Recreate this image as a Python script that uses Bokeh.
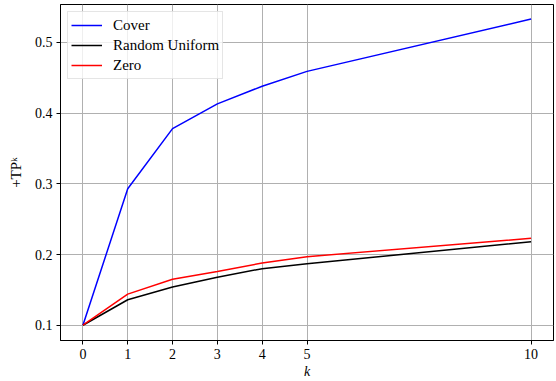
from bokeh.plotting import figure
from bokeh.models import Range1d, FixedTicker, Legend, LegendItem
from bokeh.embed import file_html
from bokeh.resources import INLINE

# Budget k and the +TP^k score for each initialisation strategy
k_values = [0, 1, 2, 3, 4, 5, 10]
cover = [0.100, 0.293, 0.378, 0.413, 0.438, 0.459, 0.533]
random_uniform = [0.100, 0.136, 0.154, 0.168, 0.180, 0.187, 0.218]
zero = [0.100, 0.144, 0.165, 0.176, 0.188, 0.197, 0.223]

x_ticks = [0, 1, 2, 3, 4, 5, 10]
y_ticks = [0.1, 0.2, 0.3, 0.4, 0.5]

FONT = "Liberation Serif"

p = figure(
    width=556, height=381,
    x_range=Range1d(-0.5, 10.5), y_range=Range1d(0.0784, 0.5536),
    output_backend="svg", toolbar_location=None,
    min_border_left=60, min_border_right=3, min_border_top=4, min_border_bottom=41,
)
p.background_fill_color = "white"
p.border_fill_color = "white"
p.outline_line_color = "black"
p.outline_line_width = 1
p.outline_line_alpha = 1

for g in (p.xgrid, p.ygrid):
    g.grid_line_color = "#b0b0b0"
    g.grid_line_width = 1

p.xaxis.ticker = FixedTicker(ticks=x_ticks)
p.yaxis.ticker = FixedTicker(ticks=y_ticks)
p.xgrid.ticker = FixedTicker(ticks=x_ticks)
p.ygrid.ticker = FixedTicker(ticks=y_ticks)

for ax in (p.xaxis[0], p.yaxis[0]):
    ax.major_tick_out = 4
    ax.major_tick_in = 0
    ax.minor_tick_out = 0
    ax.minor_tick_in = 0
    ax.axis_line_color = "black"
    ax.major_tick_line_color = "black"
    ax.major_label_text_font = FONT
    ax.major_label_text_font_size = "14px"
    ax.major_label_text_color = "black"
    ax.axis_label_text_font = FONT
    ax.axis_label_text_font_size = "14px"
    ax.axis_label_text_color = "black"
    ax.major_label_standoff = 4

p.xaxis.axis_label = "k"
p.xaxis.axis_label_text_font_style = "italic"
p.xaxis.axis_label_standoff = 2
p.yaxis.axis_label = "+TPᵏ"
p.yaxis.axis_label_text_font_size = "15px"
p.yaxis.axis_label_text_font_style = "normal"
p.yaxis.axis_label_standoff = 8

r_cover = p.line(k_values, cover, line_color="#0000ff", line_width=1.5)
r_rand = p.line(k_values, random_uniform, line_color="black", line_width=1.5)
r_zero = p.line(k_values, zero, line_color="#ff0000", line_width=1.5)

legend = Legend(
    items=[
        LegendItem(label="Cover", renderers=[r_cover]),
        LegendItem(label="Random Uniform", renderers=[r_rand]),
        LegendItem(label="Zero", renderers=[r_zero]),
    ],
    location="top_left",
    margin=7,
    padding=3,
    spacing=0,
    glyph_width=31,
    glyph_height=20,
    label_height=20,
    label_standoff=11,
    label_text_font=FONT,
    label_text_font_size="15px",
    label_text_color="black",
    border_line_color="#cccccc",
    border_line_width=1,
    background_fill_color="white",
    background_fill_alpha=0.8,
)
p.add_layout(legend, "center")

open("out.html", "w").write(file_html(p, INLINE))
